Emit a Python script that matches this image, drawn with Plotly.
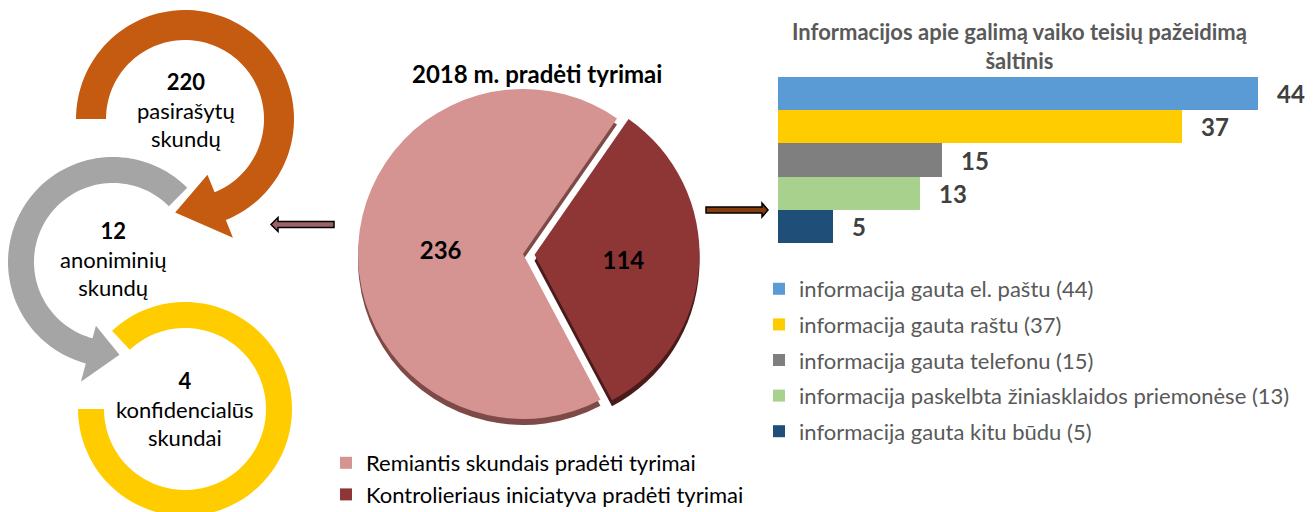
import numpy as np
import plotly.graph_objects as go

W, H = 1316, 512

# ---------------- data ----------------
pie_title = "2018 m. pradėti tyrimai"
pie_labels = ["Remiantis skundais pradėti tyrimai", "Kontrolieriaus iniciatyva pradėti tyrimai"]
pie_values = [236, 114]
pie_colors = ["#D59391", "#8E3535"]
pie_shadow_colors = ["#7E4A48", "#4A1B1B"]

bar_title = "Informacijos apie galimą vaiko teisių pažeidimą<br>šaltinis"
bar_labels = [
    "informacija gauta el. paštu (44)",
    "informacija gauta raštu (37)",
    "informacija gauta telefonu (15)",
    "informacija paskelbta žiniasklaidos priemonėse (13)",
    "informacija gauta kitu būdu (5)",
]
bar_values = [44, 37, 15, 13, 5]
bar_colors = ["#5B9BD5", "#FFCC00", "#7F7F7F", "#A9D18E", "#1F4E79"]

complaint_counts = [220, 12, 4]
complaint_texts = ["pasirašytų<br>skundų", "anoniminių<br>skundų", "konfidencialūs<br>skundai"]
complaint_colors = ["#C55A11", "#A5A5A5", "#FFCC00"]

FONT = "Lato"


def px(x):
    return x / W


def py(y):
    return 1 - y / H


def pt(cx, cy, r, a):
    t = np.deg2rad(a)
    return (cx + r * np.sin(t), cy - r * np.cos(t))


def ring_path(cx, cy, ro, ri, a0, a1, head=None):
    th = np.linspace(a0, a1, 90)
    pts = [pt(cx, cy, ro, a) for a in th]
    if head is not None:
        hri, hro, tip_a, tip_r = head
        pts += [pt(cx, cy, hro, a1), pt(cx, cy, tip_r, tip_a), pt(cx, cy, hri, a1)]
    pts += [pt(cx, cy, ri, a) for a in th[::-1]]
    d = "M " + " L ".join(f"{px(x):.5f},{py(y):.5f}" for x, y in pts) + " Z"
    return d


fig = go.Figure()

# ---------------- pie (with shadow for 3D look) ----------------
r_pix = 165
pull = [0, 0.07]
rmax = r_pix * (1 + max(pull))
cx, cy = 523, 254
sh = 6
common = dict(labels=pie_labels, values=pie_values, sort=False, direction="clockwise",
              rotation=152, pull=pull)
fig.add_trace(go.Pie(
    **common, textinfo="none", showlegend=False, hoverinfo="skip",
    marker=dict(colors=pie_shadow_colors, line=dict(width=0)),
    domain=dict(x=[px(cx - rmax), px(cx + rmax)], y=[py(cy + sh + rmax), py(cy + sh - rmax)]),
))
fig.add_trace(go.Pie(
    **common, texttemplate="<b>%{value}</b>", textposition="inside",
    insidetextorientation="horizontal",
    textfont=dict(family=FONT, size=24, color="black"),
    marker=dict(colors=pie_colors, line=dict(width=0)),
    domain=dict(x=[px(cx - rmax), px(cx + rmax)], y=[py(cy + rmax), py(cy - rmax)]),
    legend="legend",
))

# ---------------- bars ----------------
for i, (lab, val, col) in enumerate(zip(bar_labels, bar_values, bar_colors)):
    fig.add_trace(go.Bar(
        x=[val], y=[lab], orientation="h", name=lab, marker=dict(color=col, line=dict(width=0)),
        legend="legend2", legendgroup=f"g{i}", xaxis="x", yaxis="y",
    ))

annotations = []
for lab, val in zip(bar_labels, bar_values):
    annotations.append(dict(
        x=val, y=lab, xref="x", yref="y", text=f"<b>{val}</b>", showarrow=False,
        xanchor="left", yanchor="middle", xshift=17, font=dict(family=FONT, size=24, color="#404040"),
    ))

annotations.append(dict(
    x=px(1020), y=py(46), xref="paper", yref="paper", text=f"<b>{bar_title}</b>",
    xanchor="center", yanchor="middle",
    showarrow=False, font=dict(family=FONT, size=22, color="#595959"), align="center",
))
annotations.append(dict(
    x=px(537), y=py(73), xref="paper", yref="paper", text=f"<b>{pie_title}</b>",
    xanchor="center", yanchor="middle",
    showarrow=False, font=dict(family=FONT, size=24, color="black"),
))

# ---------------- circular arrows ----------------
rings = [
    # cx, cy, ro, ri, a0, a1, head
    (113, 262, 105, 79, 45, -165, (66, 124, -184, 93)),
    (185, 409, 107, 81, -43, 270, None),
    (185, 119, 109, 79, -90, 158, (60, 128, 186, 94)),
]
ring_colors = [complaint_colors[1], complaint_colors[2], complaint_colors[0]]
shapes = []
for (rcx, rcy, ro, ri, a0, a1, head), col in zip(rings, ring_colors):
    shapes.append(dict(type="path", xref="paper", yref="paper",
                       path=ring_path(rcx, rcy, ro, ri, a0, a1, head),
                       fillcolor=col, line=dict(width=0), layer="below"))

centers = [(186, 110), (113, 259), (185, 409)]
for (tx, ty), n, t in zip(centers, complaint_counts, complaint_texts):
    annotations.append(dict(
        x=px(tx), y=py(ty), xref="paper", yref="paper", xanchor="center", yanchor="middle",
        text=f"<b>{n}</b><br>{t}", showarrow=False, align="center",
        font=dict(family=FONT, size=22, color="black"),
    ))


def arrow_path(x0, x1, yc, half_shaft, half_head, head_len):
    # x0: tail, x1: tip
    s = 1 if x1 > x0 else -1
    xb = x1 - s * head_len
    pts = [(x0, yc - half_shaft), (xb, yc - half_shaft), (xb, yc - half_head), (x1, yc),
           (xb, yc + half_head), (xb, yc + half_shaft), (x0, yc + half_shaft)]
    return "M " + " L ".join(f"{px(x):.5f},{py(y):.5f}" for x, y in pts) + " Z"


shapes.append(dict(type="path", xref="paper", yref="paper", path=arrow_path(334, 271, 224.5, 3, 7, 7),
                   fillcolor="#A0606A", line=dict(color="black", width=1.5)))
shapes.append(dict(type="path", xref="paper", yref="paper", path=arrow_path(706, 768, 210, 3, 7, 6),
                   fillcolor="#843C0C", line=dict(color="black", width=1.5)))

fig.update_layout(
    width=W, height=H,
    margin=dict(l=0, r=0, t=0, b=0, autoexpand=False),
    paper_bgcolor="white", plot_bgcolor="white",
    barmode="stack", bargap=0,
    xaxis=dict(domain=[px(778), px(1258)], range=[0, 44], visible=False, fixedrange=True),
    yaxis=dict(domain=[py(243), py(77)], categoryorder="array", categoryarray=bar_labels,
               autorange="reversed", visible=False, fixedrange=True),
    legend=dict(x=px(326), y=py(442), xanchor="left", yanchor="top",
                font=dict(family=FONT, size=22, color="black"), bgcolor="rgba(0,0,0,0)"),
    legend2=dict(x=px(759), y=py(268), xanchor="left", yanchor="top", traceorder="grouped",
                 tracegroupgap=4, font=dict(family=FONT, size=22, color="#595959"),
                 bgcolor="rgba(0,0,0,0)"),
    annotations=annotations,
    shapes=shapes,
    showlegend=True,
)

fig.write_html("out.html", config={"displayModeBar": False},
               post_script="document.body.style.margin='0px';")
